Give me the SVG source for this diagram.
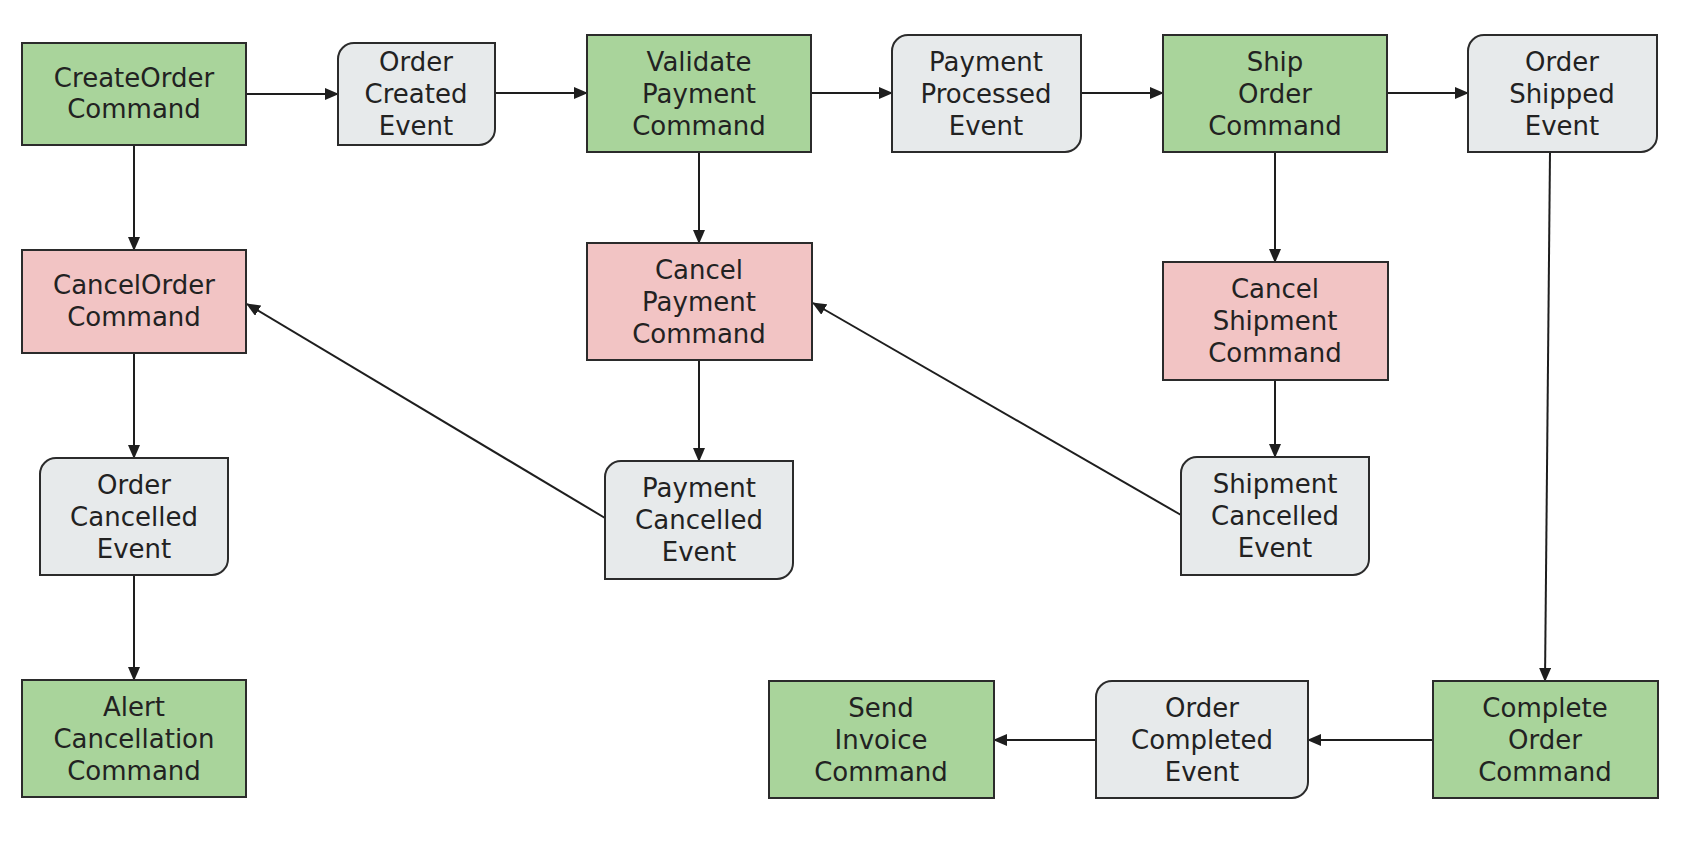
<svg xmlns="http://www.w3.org/2000/svg" width="1682" height="851" viewBox="0 0 1682 851">
<style>
.cmd{fill:#a9d49b;stroke:#2b2b2b;stroke-width:2}
.cancel{fill:#f2c4c4;stroke:#2b2b2b;stroke-width:2}
.evt{fill:#e7eaeb;stroke:#2b2b2b;stroke-width:2}
text{font-family:"DejaVu Sans","Liberation Sans",sans-serif;font-size:26px;fill:#222;text-anchor:middle}
.c line{stroke:#1e1e1e;stroke-width:2;marker-end:url(#ah)}
</style>
<defs>
<marker id="ah" markerWidth="14" markerHeight="12" refX="13" refY="6" orient="auto" markerUnits="userSpaceOnUse">
<path d="M0,0 L14,6 L0,12 Z" fill="#1e1e1e"/>
</marker>
</defs>
<rect width="1682" height="851" fill="#ffffff"/>
<g class="c" id="connectors">
<line x1="246" y1="94" x2="338" y2="94"/>
<line x1="495" y1="93" x2="587" y2="93"/>
<line x1="811" y1="93" x2="892" y2="93"/>
<line x1="1081" y1="93" x2="1163" y2="93"/>
<line x1="1387" y1="93" x2="1468" y2="93"/>
<line x1="134" y1="145" x2="134" y2="250"/>
<line x1="134" y1="353" x2="134" y2="458"/>
<line x1="134" y1="575" x2="134" y2="680"/>
<line x1="699" y1="152" x2="699" y2="243"/>
<line x1="699" y1="360" x2="699" y2="461"/>
<line x1="1275" y1="152" x2="1275" y2="262"/>
<line x1="1275" y1="380" x2="1275" y2="457"/>
<line x1="605" y1="518" x2="247" y2="304"/>
<line x1="1181" y1="515" x2="813" y2="303"/>
<line x1="1550" y1="152" x2="1545" y2="681"/>
<line x1="1433" y1="740" x2="1308" y2="740"/>
<line x1="1096" y1="740" x2="994" y2="740"/>
</g>
<g id="createOrder"><rect class="cmd" x="22" y="43" width="224" height="102"/><text x="134" y="87">CreateOrder</text><text x="134" y="118">Command</text></g>
<g id="orderCreated"><path class="evt" d="M354,43 H495 V129 A16,16 0 0 1 479,145 H338 V59 A16,16 0 0 1 354,43 Z"/><text x="416" y="71">Order</text><text x="416" y="103">Created</text><text x="416" y="135">Event</text></g>
<g id="validatePayment"><rect class="cmd" x="587" y="35" width="224" height="117"/><text x="699" y="71">Validate</text><text x="699" y="103">Payment</text><text x="699" y="135">Command</text></g>
<g id="paymentProcessed"><path class="evt" d="M908,35 H1081 V136 A16,16 0 0 1 1065,152 H892 V51 A16,16 0 0 1 908,35 Z"/><text x="986" y="71">Payment</text><text x="986" y="103">Processed</text><text x="986" y="135">Event</text></g>
<g id="shipOrder"><rect class="cmd" x="1163" y="35" width="224" height="117"/><text x="1275" y="71">Ship</text><text x="1275" y="103">Order</text><text x="1275" y="135">Command</text></g>
<g id="orderShipped"><path class="evt" d="M1484,35 H1657 V136 A16,16 0 0 1 1641,152 H1468 V51 A16,16 0 0 1 1484,35 Z"/><text x="1562" y="71">Order</text><text x="1562" y="103">Shipped</text><text x="1562" y="135">Event</text></g>
<g id="cancelOrder"><rect class="cancel" x="22" y="250" width="224" height="103"/><text x="134" y="294">CancelOrder</text><text x="134" y="326">Command</text></g>
<g id="cancelPayment"><rect class="cancel" x="587" y="243" width="225" height="117"/><text x="699" y="279">Cancel</text><text x="699" y="311">Payment</text><text x="699" y="343">Command</text></g>
<g id="cancelShipment"><rect class="cancel" x="1163" y="262" width="225" height="118"/><text x="1275" y="298">Cancel</text><text x="1275" y="330">Shipment</text><text x="1275" y="362">Command</text></g>
<g id="orderCancelled"><path class="evt" d="M56,458 H228 V559 A16,16 0 0 1 212,575 H40 V474 A16,16 0 0 1 56,458 Z"/><text x="134" y="494">Order</text><text x="134" y="526">Cancelled</text><text x="134" y="558">Event</text></g>
<g id="paymentCancelled"><path class="evt" d="M621,461 H793 V563 A16,16 0 0 1 777,579 H605 V477 A16,16 0 0 1 621,461 Z"/><text x="699" y="497">Payment</text><text x="699" y="529">Cancelled</text><text x="699" y="561">Event</text></g>
<g id="shipmentCancelled"><path class="evt" d="M1197,457 H1369 V559 A16,16 0 0 1 1353,575 H1181 V473 A16,16 0 0 1 1197,457 Z"/><text x="1275" y="493">Shipment</text><text x="1275" y="525">Cancelled</text><text x="1275" y="557">Event</text></g>
<g id="alertCancellation"><rect class="cmd" x="22" y="680" width="224" height="117"/><text x="134" y="716">Alert</text><text x="134" y="748">Cancellation</text><text x="134" y="780">Command</text></g>
<g id="sendInvoice"><rect class="cmd" x="769" y="681" width="225" height="117"/><text x="881" y="717">Send</text><text x="881" y="749">Invoice</text><text x="881" y="781">Command</text></g>
<g id="orderCompleted"><path class="evt" d="M1112,681 H1308 V782 A16,16 0 0 1 1292,798 H1096 V697 A16,16 0 0 1 1112,681 Z"/><text x="1202" y="717">Order</text><text x="1202" y="749">Completed</text><text x="1202" y="781">Event</text></g>
<g id="completeOrder"><rect class="cmd" x="1433" y="681" width="225" height="117"/><text x="1545" y="717">Complete</text><text x="1545" y="749">Order</text><text x="1545" y="781">Command</text></g>
</svg>
